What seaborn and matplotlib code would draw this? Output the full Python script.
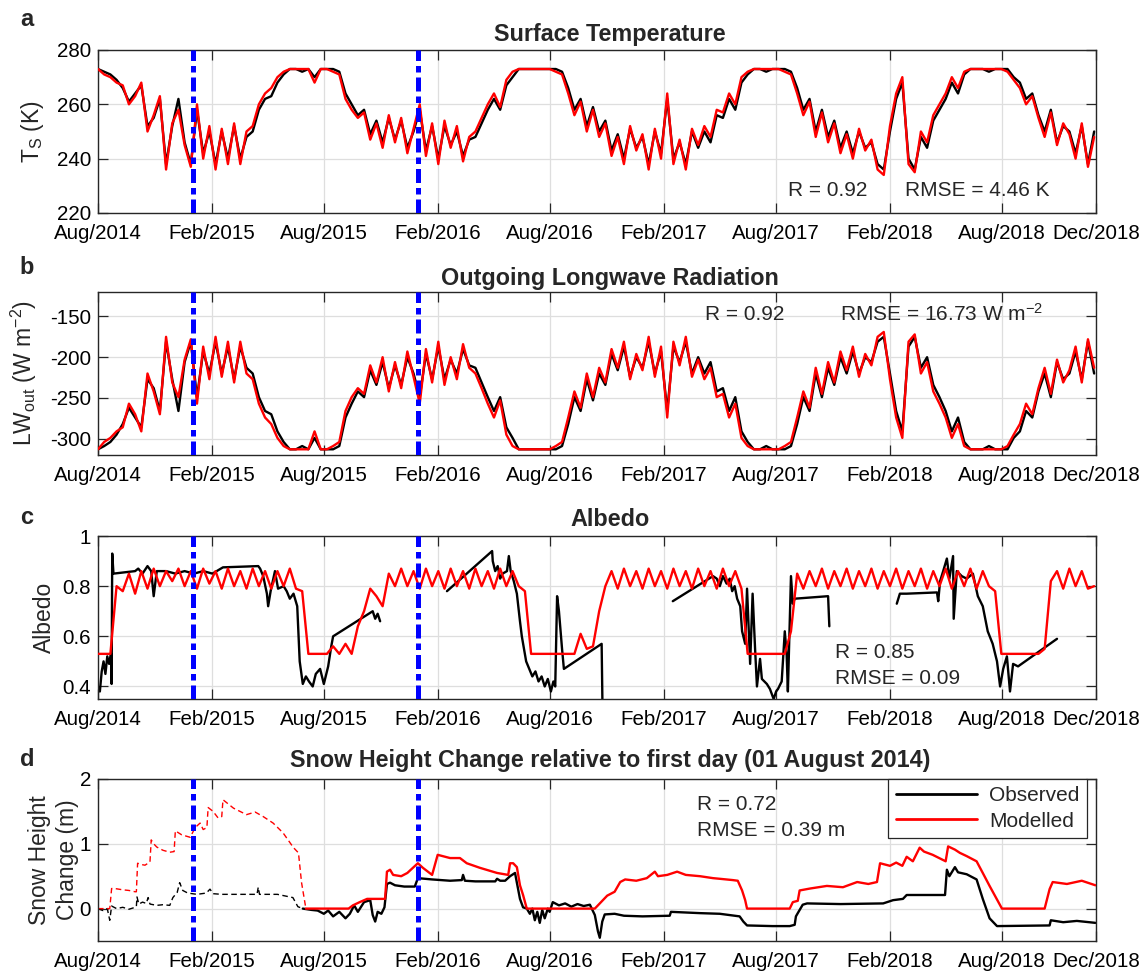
import numpy as np
import pandas as pd
import matplotlib
matplotlib.use("Agg")
import matplotlib.pyplot as plt
from matplotlib.lines import Line2D
import seaborn as sns

# ---------------------------------------------------------------- data
SERIES_START = "2014-08-01"      # first day of all series
STEP_DAYS = 10                   # sampling of the regular series
AXIS_END = "2018-12-31"

tick_dates = ["2014-08-01", "2015-02-01", "2015-08-01", "2016-02-01", "2016-08-01",
              "2017-02-01", "2017-08-01", "2018-02-01", "2018-08-01", "2018-12-31"]
event_dates = ["2015-01-01", "2016-01-01"]

# Surface temperature (K), every 10 days
ts_obs = [
    273, 272, 271, 269, 266, 261, 264, 267, 252, 255, 262, 238, 252, 262, 246, 238,
    258, 242, 250, 238, 250, 240, 252, 240, 248, 250, 258, 262, 263, 268, 271, 273, 273, 272,
    273, 270, 273, 273, 273, 272, 264, 260, 256, 258, 249, 254, 246, 255, 247, 254, 244, 250,
    258, 243, 252, 240, 252, 245, 250, 241, 247, 248, 253, 258, 262, 258, 267, 270, 273, 273,
    273, 273, 273, 273, 273, 272, 266, 258, 262, 252, 259, 250, 254, 243, 249, 240, 251, 244,
    248, 238, 250, 242, 262, 240, 246, 238, 250, 244, 250, 246, 256, 255, 262, 258, 268, 271, 273,
    273, 272, 273, 273, 273, 272, 266, 258, 262, 250, 258, 248, 254, 244, 250, 242, 250, 244,
    246, 238, 236, 250, 262, 268, 240, 236, 248, 244, 254, 258, 262, 268, 264, 271, 273, 273,
    273, 272, 273, 273, 273, 270, 268, 262, 264, 256, 250, 258, 246, 252, 250, 242, 252, 238, 250,
]
ts_mod = [
    273, 271, 270, 268, 267, 260, 263, 268, 250, 256, 263, 236, 253, 258, 245, 237,
    260, 240, 252, 236, 251, 238, 253, 238, 250, 252, 260, 264, 266, 270, 272, 273, 273, 273,
    273, 268, 273, 273, 272, 271, 262, 258, 255, 257, 247, 253, 244, 256, 246, 255, 242, 251,
    260, 241, 253, 238, 254, 244, 252, 239, 248, 250, 255, 260, 264, 259, 269, 272, 273, 273,
    273, 273, 273, 273, 272, 271, 264, 256, 261, 250, 258, 248, 253, 241, 248, 238, 252, 243,
    249, 236, 251, 240, 264, 238, 247, 236, 251, 245, 252, 248, 258, 257, 264, 260, 270, 272, 273,
    273, 273, 273, 273, 272, 271, 264, 256, 261, 248, 257, 246, 253, 242, 249, 240, 251, 243,
    247, 236, 234, 252, 264, 270, 238, 235, 250, 246, 256, 260, 264, 270, 266, 272, 273, 273,
    273, 273, 273, 273, 272, 269, 266, 260, 263, 255, 248, 257, 245, 253, 249, 240, 253, 237, 248,
]

# Outgoing longwave radiation (W m-2), every 10 days
lw_obs = [
    -313, -309, -304, -295, -282, -262, -274, -286, -227, -238, -266, -181, -227, -266, -206, -181,
    -249, -193, -220, -181, -220, -187, -227, -187, -213, -220, -249, -266, -270, -291, -304, -313, -313, -309,
    -313, -299, -313, -313, -313, -309, -274, -257, -242, -249, -216, -234, -206, -238, -210, -234, -200, -220,
    -249, -196, -227, -187, -227, -203, -220, -190, -210, -213, -231, -249, -266, -249, -286, -299, -313, -313,
    -313, -313, -313, -313, -313, -309, -282, -249, -266, -227, -253, -220, -234, -196, -216, -187, -224, -200,
    -213, -181, -220, -193, -266, -187, -206, -181, -220, -200, -220, -206, -242, -238, -266, -249, -291, -304, -313,
    -313, -309, -313, -313, -313, -309, -282, -249, -266, -220, -249, -213, -234, -200, -220, -193, -220, -200,
    -206, -181, -175, -220, -266, -291, -187, -175, -213, -200, -234, -249, -266, -291, -274, -304, -313, -313,
    -313, -309, -313, -313, -313, -299, -291, -266, -274, -242, -220, -249, -206, -227, -220, -193, -227, -181, -220,
]
lw_mod = [
    -313, -304, -299, -291, -286, -257, -270, -291, -220, -242, -270, -175, -231, -249, -203, -178,
    -257, -187, -227, -175, -224, -181, -231, -181, -220, -227, -257, -274, -282, -299, -309, -313, -313, -313,
    -313, -291, -313, -313, -309, -304, -266, -249, -238, -245, -210, -231, -200, -242, -206, -238, -193, -224,
    -257, -190, -231, -181, -234, -200, -227, -184, -213, -220, -238, -257, -274, -253, -295, -309, -313, -313,
    -313, -313, -313, -313, -309, -304, -274, -242, -262, -220, -249, -213, -231, -190, -213, -181, -227, -196,
    -216, -175, -224, -187, -274, -181, -210, -175, -224, -203, -227, -213, -249, -245, -274, -257, -299, -309, -313,
    -313, -313, -313, -313, -309, -304, -274, -242, -262, -213, -245, -206, -231, -193, -216, -187, -224, -196,
    -210, -175, -169, -227, -274, -299, -181, -172, -220, -206, -242, -257, -274, -299, -282, -309, -313, -313,
    -313, -313, -313, -313, -309, -295, -282, -257, -270, -238, -213, -245, -203, -231, -216, -187, -231, -178, -213,
]

# Modelled albedo, every 10 days
alb_mod = [
    0.53, 0.53, 0.53, 0.80, 0.78, 0.85, 0.77, 0.86, 0.79, 0.87, 0.80, 0.86, 0.82, 0.87, 0.80, 0.86,
    0.79, 0.87, 0.81, 0.86, 0.79, 0.87, 0.80, 0.86, 0.79, 0.87, 0.80, 0.86, 0.79, 0.86, 0.80, 0.87, 0.79, 0.78,
    0.53, 0.53, 0.53, 0.53, 0.56, 0.53, 0.57, 0.53, 0.64, 0.70, 0.79, 0.76, 0.72, 0.85, 0.80, 0.87, 0.80, 0.86,
    0.79, 0.87, 0.80, 0.86, 0.79, 0.87, 0.80, 0.86, 0.79, 0.87, 0.80, 0.86, 0.79, 0.87, 0.80, 0.86, 0.80, 0.78,
    0.53, 0.53, 0.53, 0.53, 0.53, 0.53, 0.53, 0.53, 0.61, 0.55, 0.56, 0.70, 0.80, 0.86, 0.79, 0.87, 0.80, 0.86,
    0.79, 0.87, 0.80, 0.86, 0.79, 0.87, 0.80, 0.86, 0.79, 0.87, 0.80, 0.86, 0.79, 0.87, 0.80, 0.86, 0.79, 0.53, 0.53,
    0.53, 0.53, 0.53, 0.53, 0.53, 0.62, 0.85, 0.79, 0.86, 0.80, 0.87, 0.79, 0.86, 0.80, 0.87, 0.79, 0.86, 0.80,
    0.87, 0.79, 0.86, 0.80, 0.87, 0.79, 0.86, 0.80, 0.87, 0.79, 0.86, 0.80, 0.87, 0.79, 0.86, 0.80, 0.87, 0.79,
    0.86, 0.80, 0.78, 0.53, 0.53, 0.53, 0.53, 0.53, 0.53, 0.53, 0.55, 0.82, 0.86, 0.79, 0.87, 0.80, 0.86, 0.79, 0.80,
]

# Observed albedo: day offset from SERIES_START, NaN marks data gaps
alb_obs_day = [
    0, 3, 6, 9, 12, 15, 18, 21, 22, 23, 25, 60, 65, 72, 80, 86, 90, 95, 110, 125, 140, 155, 170, 185,
    202, 259, 262, 267, 273, 275, 279, 286, 291, 300, 305, 310, 316, 322, 326, 331, 336, 341, 347,
    352, 359, 365, 372, 377, 380, 444, 448, 452, 456, np.nan,
    564, 637, 638, 642, 646, 650, 654, 661, 664, 667, 672, 677, 682, 685, 692, 697, 702, 707, 712,
    717, 722, 727, 732, 736, 739, 742, 745, 750, 753, 814, 816, np.nan,
    929, 994, 1000, 1005, 1010, 1016, 1021, 1025, 1029, 1033, 1038, 1041, 1046, 1049, 1054, 1058,
    1062, 1065, 1070, 1073, 1081, 1086, 1089, 1092, 1096, 1099, 1105, 1110, 1113, 1115, 1120, 1123,
    1126, 1180, 1182, np.nan,
    1291, 1296, 1307, 1356, 1358, 1361, 1366, 1372, 1376, 1382, 1383, 1388, 1396, 1404, 1414, 1422,
    1430, 1438, 1446, 1453, 1458, 1463, 1469, 1474, 1479, 1487, 1550,
]
alb_obs_val = [
    0.40, 0.38, 0.46, 0.50, 0.45, 0.52, 0.49, 0.53, 0.41, 0.93, 0.85, 0.86, 0.87, 0.85, 0.88, 0.86,
    0.76, 0.86, 0.86, 0.85, 0.86, 0.85, 0.86, 0.85,
    0.875, 0.88, 0.87, 0.84, 0.77, 0.72, 0.78, 0.86, 0.79, 0.80, 0.78, 0.75, 0.77, 0.72, 0.50, 0.41,
    0.44, 0.42, 0.40, 0.45, 0.47, 0.41, 0.48, 0.56, 0.60, 0.70, 0.67, 0.69, 0.66, np.nan,
    0.78, 0.94, 0.90, 0.86, 0.88, 0.83, 0.85, 0.86, 0.92, 0.86, 0.82, 0.77, 0.66, 0.60, 0.50, 0.47,
    0.44, 0.46, 0.42, 0.44, 0.40, 0.43, 0.38, 0.42, 0.40, 0.76, 0.70, 0.55, 0.47, 0.57, 0.20, np.nan,
    0.74, 0.84, 0.83, 0.80, 0.84, 0.81, 0.83, 0.78, 0.80, 0.75, 0.72, 0.62, 0.57, 0.79, 0.49, 0.77,
    0.55, 0.40, 0.51, 0.43, 0.41, 0.39, 0.37, 0.35, 0.38, 0.39, 0.42, 0.62, 0.53, 0.38, 0.84, 0.73,
    0.75, 0.76, 0.64, np.nan,
    0.73, 0.77, 0.77, 0.775, 0.74, 0.82, 0.86, 0.91, 0.83, 0.92, 0.67, 0.86, 0.84, 0.83, 0.85, 0.76,
    0.72, 0.62, 0.57, 0.50, 0.40, 0.47, 0.52, 0.38, 0.49, 0.48, 0.59,
]

# Snow height change (m): first year (dashed) and the rest (solid)
snow_obs_y1_day = [0, 8, 15, 19, 22, 30, 40, 50, 60, 62, 63, 66, 72, 78, 81, 84, 95, 105, 116, 121,
                   128, 132, 137, 145, 160, 175, 181, 186, 200, 230, 257, 259, 261, 290, 315, 323, 331]
snow_obs_y1_val = [0.0, -0.03, 0.0, -0.18, 0.04, 0.0, 0.02, -0.01, 0.02, 0.03, 0.18, 0.07, 0.10, 0.08,
                   0.17, 0.07, 0.05, 0.06, 0.05, 0.17, 0.25, 0.40, 0.28, 0.24, 0.22, 0.24, 0.30, 0.23,
                   0.22, 0.22, 0.22, 0.33, 0.22, 0.22, 0.17, 0.03, 0.0]
snow_mod_y1_day = [0, 19, 22, 27, 40, 50, 60, 62, 64, 70, 76, 84, 86, 90, 95, 105, 116, 123, 125, 135,
                   149, 157, 165, 170, 176, 178, 186, 194, 200, 202, 219, 240, 254, 267, 283, 299,
                   316, 324, 329, 336]
snow_mod_y1_val = [0.0, 0.0, 0.31, 0.31, 0.29, 0.28, 0.26, 0.26, 0.70, 0.68, 0.67, 0.72, 1.06, 1.00,
                   0.95, 0.90, 0.87, 0.88, 1.20, 1.14, 1.10, 1.25, 1.32, 1.22, 1.25, 1.56, 1.50, 1.40,
                   1.42, 1.68, 1.55, 1.45, 1.49, 1.42, 1.32, 1.17, 0.94, 0.86, 0.40, 0.0]

snow_obs_day = [331, 345, 355, 365, 372, 380, 390, 400, 407, 414, 420, 430, 440, 444, 448, 452, 458,
                463, 467, 472, 480, 495, 512, 517, 540, 569, 588, 590, 593, 610, 642, 645, 650, 658,
                666, 674, 677, 682, 687, 693, 698, 702, 706, 710, 714, 718, 722, 727, 730, 735, 745,
                755, 765, 775, 785, 795, 803, 808, 811, 815, 819, 835, 850, 880, 924, 926, 973, 1005,
                1037, 1043, 1049, 1090, 1118, 1126, 1128, 1131, 1139, 1146, 1200, 1269, 1285, 1301,
                1307, 1369, 1372, 1376, 1385, 1390, 1404, 1420, 1430, 1441, 1453, 1538, 1540, 1560,
                1582, 1612]
snow_obs_val = [0.0, -0.02, -0.03, -0.08, -0.03, -0.12, -0.05, -0.15, -0.08, 0.05, -0.05, 0.10, 0.13,
                -0.10, -0.20, -0.05, -0.08, 0.02, 0.38, 0.40, 0.36, 0.34, 0.34, 0.47, 0.45, 0.43, 0.44,
                0.52, 0.43, 0.42, 0.42, 0.46, 0.43, 0.43, 0.50, 0.55, 0.40, 0.15, 0.02, 0.0, -0.08,
                0.0, -0.18, -0.05, -0.22, -0.02, -0.15, 0.0, -0.05, 0.10, 0.05, 0.08, 0.03, 0.07, 0.04,
                0.06, -0.10, -0.35, -0.45, -0.20, -0.09, -0.08, -0.11, -0.12, -0.11, -0.05, -0.07,
                -0.08, -0.12, -0.20, -0.26, -0.27, -0.27, -0.25, -0.12, -0.07, 0.06, 0.08, 0.07, 0.08,
                0.13, 0.15, 0.21, 0.21, 0.60, 0.50, 0.64, 0.56, 0.53, 0.45, 0.15, -0.15, -0.27, -0.26,
                -0.18, -0.21, -0.19, -0.22]
snow_mod_day = [336, 405, 412, 423, 435, 464, 467, 472, 477, 490, 500, 509, 517, 525, 540, 549, 569,
                585, 596, 617, 645, 663, 666, 671, 677, 682, 687, 693, 803, 811, 823, 835, 844, 852,
                870, 887, 900, 905, 920, 936, 950, 973, 994, 1005, 1026, 1034, 1041, 1046, 1049, 1118,
                1123, 1131, 1134, 1151, 1178, 1204, 1227, 1245, 1259, 1264, 1280, 1290, 1300, 1307,
                1317, 1328, 1335, 1349, 1370, 1374, 1385, 1393, 1404, 1420, 1430, 1441, 1453, 1461,
                1530, 1538, 1543, 1566, 1590, 1612]
snow_mod_val = [0.0, 0.0, 0.05, 0.10, 0.15, 0.15, 0.57, 0.60, 0.52, 0.50, 0.55, 0.63, 0.70, 0.63,
                0.52, 0.83, 0.78, 0.78, 0.70, 0.63, 0.55, 0.52, 0.70, 0.70, 0.64, 0.36, 0.21, 0.0,
                0.0, 0.08, 0.20, 0.26, 0.41, 0.45, 0.43, 0.47, 0.57, 0.50, 0.52, 0.57, 0.52, 0.50,
                0.47, 0.46, 0.44, 0.43, 0.28, 0.13, 0.0, 0.0, 0.10, 0.12, 0.28, 0.31, 0.35, 0.33,
                0.41, 0.38, 0.41, 0.70, 0.66, 0.71, 0.66, 0.80, 0.73, 0.94, 0.88, 0.83, 0.73, 0.96,
                0.91, 0.86, 0.81, 0.73, 0.55, 0.35, 0.14, 0.0, 0.0, 0.30, 0.41, 0.38, 0.43, 0.36]

panel_titles = ["Surface Temperature", "Outgoing Longwave Radiation", "Albedo",
                "Snow Height Change relative to first day (01 August 2014)"]
panel_letters = ["a", "b", "c", "d"]
stats_text = [["R = 0.92", "RMSE = 4.46 K"],
              ["R = 0.92", "RMSE = 16.73 W m$^\\mathregular{-2}$"],
              ["R = 0.85", "RMSE = 0.09"],
              ["R = 0.72", "RMSE = 0.39 m"]]
legend_labels = ["Observed", "Modelled"]

for arr in (ts_obs, ts_mod, lw_obs, lw_mod, alb_mod):
    assert len(arr) == 162, len(arr)
assert len(alb_obs_day) == len(alb_obs_val)
assert len(snow_obs_y1_day) == len(snow_obs_y1_val)
assert len(snow_mod_y1_day) == len(snow_mod_y1_val)
assert len(snow_obs_day) == len(snow_obs_val)
assert len(snow_mod_day) == len(snow_mod_val)

# ---------------------------------------------------------------- helpers
t0 = pd.Timestamp(SERIES_START)


def regular_dates(n):
    return t0 + pd.to_timedelta(np.arange(n) * STEP_DAYS, unit="D")


def day_dates(days):
    return t0 + pd.to_timedelta(np.asarray(days, dtype=float), unit="D")


def segments(x, y):
    x = pd.Series(x)
    y = pd.Series(np.asarray(y, dtype=float))
    gap = y.isna() | x.isna()
    grp = gap.cumsum()
    out = []
    for _, idx in grp[~gap].groupby(grp[~gap]).groups.items():
        out.append((x.loc[idx].reset_index(drop=True), y.loc[idx].reset_index(drop=True)))
    return out


def draw(ax, x, y, color, lw=1.7, ls="-", z=2):
    for xs, ys in segments(x, y):
        df = pd.DataFrame({"date": xs, "value": ys})
        sns.lineplot(data=df, x="date", y="value", ax=ax, color=color, linewidth=lw,
                     linestyle=ls, estimator=None, sort=False, legend=False, zorder=z)


# ---------------------------------------------------------------- style
sns.set_theme(style="ticks")
plt.rcParams["font.family"] = ["Liberation Sans", "DejaVu Sans"]
plt.rcParams["mathtext.fontset"] = "custom"
plt.rcParams["mathtext.rm"] = "Liberation Sans"
plt.rcParams["mathtext.it"] = "Liberation Sans:italic"
plt.rcParams["axes.unicode_minus"] = False

W, H = 1147, 974
fig = plt.figure(figsize=(W / 100, H / 100), dpi=100)
fig.patch.set_facecolor("white")

ax_left, ax_right = 98, 1096
ax_tops = [50, 292, 536, 779]
ax_bots = [213, 455, 699, 941]
axes = []
for top, bot in zip(ax_tops, ax_bots):
    axes.append(fig.add_axes([ax_left / W, 1 - bot / H, (ax_right - ax_left) / W, (bot - top) / H]))

RED = "#ff0000"
BLK = "#000000"
BLUE = "#0000ff"

d_reg = regular_dates(162)

# a: surface temperature
draw(axes[0], d_reg, ts_obs, BLK)
draw(axes[0], d_reg, ts_mod, RED, z=3)
# b: outgoing longwave
draw(axes[1], d_reg, lw_obs, BLK)
draw(axes[1], d_reg, lw_mod, RED, z=3)
# c: albedo
draw(axes[2], day_dates(alb_obs_day), alb_obs_val, BLK)
draw(axes[2], d_reg, alb_mod, RED, z=3)
# d: snow height
draw(axes[3], day_dates(snow_obs_y1_day), snow_obs_y1_val, BLK, lw=1.0, ls=(0, (4, 2.5)))
draw(axes[3], day_dates(snow_mod_y1_day), snow_mod_y1_val, RED, lw=1.0, ls=(0, (4, 2.5)))
draw(axes[3], day_dates(snow_obs_day), snow_obs_val, BLK)
draw(axes[3], day_dates(snow_mod_day), snow_mod_val, RED, z=3)

ylims = [(220, 280), (-320, -120), (0.35, 1.0), (-0.5, 2.0)]
yticks = [[220, 240, 260, 280], [-300, -250, -200, -150], [0.4, 0.6, 0.8, 1.0], [0, 1, 2]]
ytick_labels = [["220", "240", "260", "280"], ["-300", "-250", "-200", "-150"],
                ["0.4", "0.6", "0.8", "1"], ["0", "1", "2"]]
ylabels = ["T$_\\mathregular{S}$ (K)", "LW$_\\mathregular{out}$ (W m$^\\mathregular{-2}$)",
           "Albedo", "Snow Height\nChange (m)"]
# right edge (pixels) of each rotated y label
ylabel_right = [46, 39, 56, 79]

ticks = pd.to_datetime(tick_dates)
tick_labels = [t.strftime("%b/%Y") for t in ticks]

for i, ax in enumerate(axes):
    for ev in event_dates:
        ax.axvline(pd.Timestamp(ev), color=BLUE, lw=3.6, ls=(0, (2.8, 1.0, 1.3, 1.0)), zorder=6)
    ax.set_xlim(t0, pd.Timestamp(AXIS_END))
    ax.set_ylim(*ylims[i])
    ax.set_xticks(ticks)
    ax.set_xticklabels(tick_labels)
    ax.set_yticks(yticks[i])
    ax.set_yticklabels(ytick_labels[i])
    ax.set_xlabel("")
    ax.set_ylabel(ylabels[i], fontsize=16.5, linespacing=1.3)
    ax.yaxis.set_label_coords((ylabel_right[i] - ax_left) / (ax_right - ax_left), 0.5)
    ax.grid(True, color="#dedede", lw=0.9)
    ax.set_axisbelow(True)
    ax.tick_params(direction="in", length=7, width=0.9, top=True, right=True,
                   labelsize=14.8, colors="#262626", labelcolor="black")
    ax.tick_params(axis="x", pad=8)
    ax.tick_params(axis="y", pad=5)
    for sp in ax.spines.values():
        sp.set_visible(True)
        sp.set_color("#262626")
        sp.set_linewidth(1.0)
    ax.set_facecolor("white")

# titles and panel letters
title_y = [35, 278, 520, 760]
letter_y = [19, 267, 517, 760]
for i in range(4):
    fig.text(610 / W, 1 - title_y[i] / H, panel_titles[i], ha="center", va="center",
             fontsize=16.8, fontweight="bold")
    fig.text(27 / W, 1 - letter_y[i] / H, panel_letters[i], ha="center", va="center",
             fontsize=17, fontweight="bold")

# statistics annotations (left x, center y in pixels)
stat_pos = [[(788, 191), (905, 191)],
            [(705, 314), (840, 314)],
            [(835, 653), (835, 679)],
            [(697, 804), (697, 830)]]
for i in range(4):
    for txt, (px, py) in zip(stats_text[i], stat_pos[i]):
        fig.text(px / W, 1 - py / H, txt, ha="left", va="center", fontsize=15)

# legend in panel d
handles = [Line2D([0], [0], color=BLK, lw=2.0), Line2D([0], [0], color=RED, lw=2.0)]
leg = axes[3].legend(handles, legend_labels, loc="upper right",
                     bbox_to_anchor=(1 - 9 / (ax_right - ax_left), 1.0), borderaxespad=0.0,
                     fontsize=15, handlelength=3.9, frameon=True, fancybox=False,
                     framealpha=1.0, edgecolor="#262626", borderpad=0.35, labelspacing=0.3,
                     handletextpad=0.6)
leg.get_frame().set_linewidth(0.9)

fig.savefig("out.png", dpi=100, facecolor="white")
